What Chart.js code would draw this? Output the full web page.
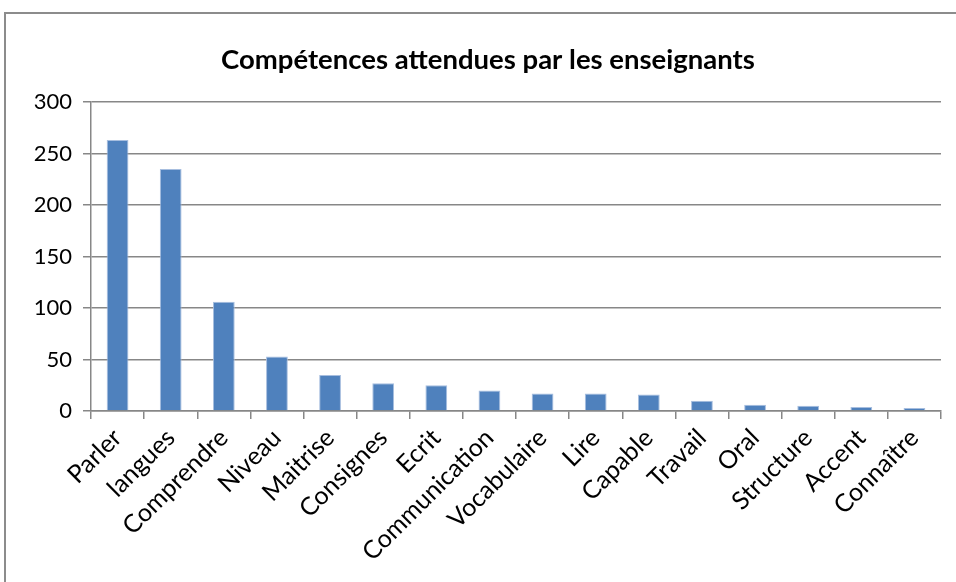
<!DOCTYPE html>
<html>
<head>
<meta charset="utf-8">
<script src="https://cdn.jsdelivr.net/npm/chart.js@4"></script>
<style>
  body { margin: 0; overflow: hidden; background: #fff; }
  #frame {
    position: absolute; left: 4px; top: 12px;
    width: 970px; height: 600px;
    border: 2px solid #8c8c8c;
    background: #fff;
  }
</style>
</head>
<body>
<div id="frame">
  <canvas id="competences" width="964" height="600"></canvas>
</div>
<script>
const categories = ['Parler', 'langues', 'Comprendre', 'Niveau', 'Maitrise', 'Consignes', 'Ecrit',
    'Communication', 'Vocabulaire', 'Lire', 'Capable', 'Travail', 'Oral', 'Structure', 'Accent', 'Connaître'];
const counts = [263, 235, 106, 53, 35, 27, 25, 20, 17, 17, 16, 10, 6, 5, 4, 3];
const yTicks = [0, 50, 100, 150, 200, 250, 300];

const fontFamily = 'Lato, "Open Sans", sans-serif';
const gridColor = '#878787';

const ctx = document.querySelector('#competences');
const chart = new Chart(ctx, {
    type: 'bar',
    data: {
        labels: categories,
        datasets: [{
            data: counts,
            backgroundColor: '#4f81bd',
            borderColor: '#a7bedf',
            borderWidth: 1,
            barPercentage: 0.41,
            categoryPercentage: 1
        }]
    },
    options: {
        responsive: false,
        animation: false,
        layout: { padding: 0 },
        plugins: {
            legend: { display: false },
            tooltip: { enabled: false },
            title: {
                display: true,
                text: 'Compétences attendues par les enseignants',
                color: '#000',
                font: { family: fontFamily, size: 27.5, weight: 'bold' },
                padding: { top: 29.5, bottom: 25.5 }
            }
        },
        scales: {
            x: {
                offset: true,
                grid: { display: true, drawOnChartArea: false, offset: true, color: gridColor, tickLength: 8, lineWidth: 1.5 },
                border: { color: gridColor, width: 1.5 },
                ticks: {
                    color: '#000',
                    font: { family: fontFamily, size: 25 },
                    minRotation: 45, maxRotation: 45,
                    padding: 4,
                    autoSkip: false
                },
                afterFit: s => { s.height = 203; }
            },
            y: {
                min: 0, max: 300,
                afterBuildTicks: s => { s.ticks = yTicks.map(v => ({ value: v })); },
                grid: { color: gridColor, tickLength: 8, lineWidth: 1.5 },
                border: { color: gridColor, width: 1.5 },
                ticks: {
                    color: '#000',
                    font: { family: fontFamily, size: 22 },
                    padding: 11
                },
                afterFit: s => { s.width = 85; }
            },
            // empty right-hand margin so the plot ends where the reference does
            yRight: {
                position: 'right',
                min: 0, max: 300,
                grid: { display: false },
                border: { display: false },
                ticks: { display: false },
                afterFit: s => { s.width = 29; }
            }
        }
    }
});
</script>
</body>
</html>
